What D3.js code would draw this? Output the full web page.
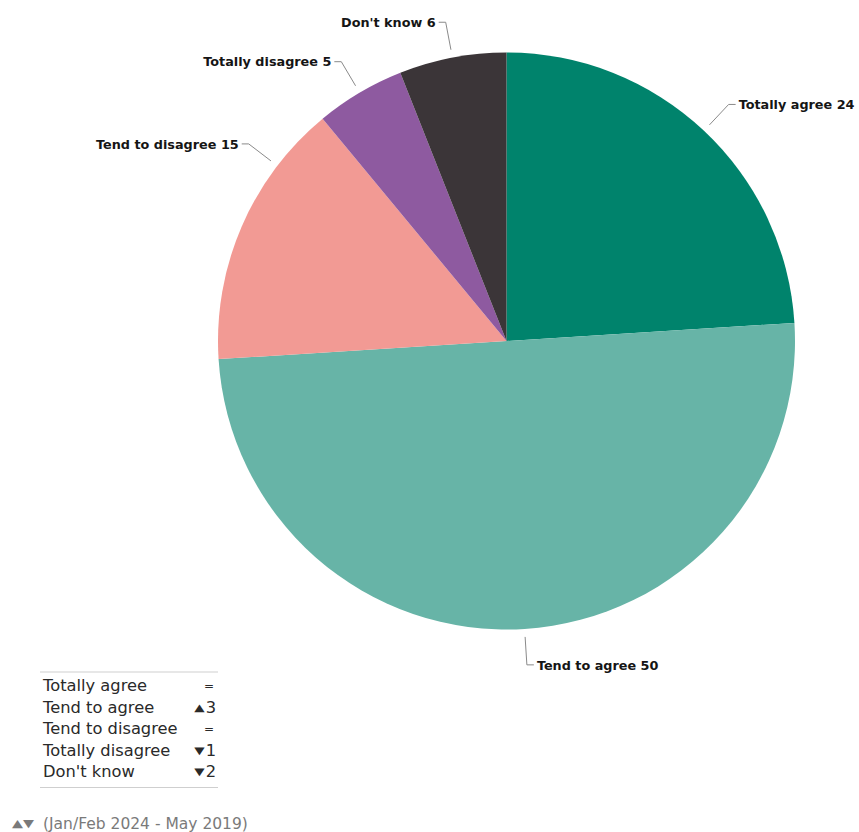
<!DOCTYPE html>
<html>
<head>
<meta charset="utf-8">
<script src="https://cdn.jsdelivr.net/npm/d3@7"></script>
<style>
  html, body { margin: 0; padding: 0; background: #fff; }
  svg { display: block; }
</style>
</head>
<body>
<svg id="chart" width="859" height="832"></svg>
<script>
// ---- data ----
const categories = ["Totally agree", "Tend to agree", "Tend to disagree", "Totally disagree", "Don't know"];
const values = [24, 50, 15, 5, 6];
const changes = [0, 3, 0, -1, -2];
const colors = ["#00836c", "#67b4a7", "#f29a94", "#8e5aa0", "#3b3538"];
const footnote = "(Jan/Feb 2024 - May 2019)";

// ---- layout / style ----
const cx = 506.5, cy = 341, R = 288.5;
const labelAngleShift = [0, 0, 14, 0, 0]; // degrees, visual label offset
const toRad = Math.PI / 180;
const labelFont = "'DejaVu Sans', Verdana, sans-serif";

const svg = d3.select("#chart");

const pie = d3.pie().sort(null).value(d => d.value).startAngle(0).endAngle(2 * Math.PI);
const arcs = pie(categories.map((c, i) => ({ name: c, value: values[i], color: colors[i], idx: i })));
const arc = d3.arc().innerRadius(0).outerRadius(R);

const g = svg.append("g").attr("transform", `translate(${cx},${cy})`);

g.selectAll("path.slice")
  .data(arcs)
  .join("path")
  .attr("class", "slice")
  .attr("d", arc)
  .attr("fill", d => d.data.color);

// labels with leader lines
const lfs = 12.8;
arcs.forEach(d => {
  const a = (d.startAngle + d.endAngle) / 2 + labelAngleShift[d.data.idx] * toRad;
  const sx = Math.sin(a), sy = -Math.cos(a);
  const p1 = [(R + 8) * sx, (R + 8) * sy];
  const p2 = [(R + 36) * sx, (R + 36) * sy];
  const right = sx > 0.02;
  const p3 = [p2[0] + (right ? 7 : -7), p2[1]];
  g.append("path")
    .attr("d", d3.line()([p1, p2, p3]))
    .attr("fill", "none")
    .attr("stroke", "#8a8a8a")
    .attr("stroke-width", 1);
  g.append("text")
    .attr("x", p3[0] + (right ? 3 : -3))
    .attr("y", p3[1] + lfs * 0.37)
    .attr("text-anchor", right ? "start" : "end")
    .attr("font-family", labelFont)
    .attr("font-weight", "bold")
    .attr("font-size", lfs)
    .attr("fill", "#151515")
    .text(`${d.data.name} ${d.data.value}`);
});

// ---- change table (legend) ----
const legX0 = 40, legX1 = 218, legTop = 672, rowH = 21.5, tfs = 16.3;
const leg = svg.append("g");
const yRow = i => legTop + 13.5 + i * rowH;

leg.append("line").attr("x1", legX0).attr("x2", legX1).attr("y1", legTop).attr("y2", legTop)
  .attr("stroke", "#cfcfcf").attr("stroke-width", 1);
leg.append("line").attr("x1", legX0).attr("x2", legX1)
  .attr("y1", legTop + rowH * categories.length + 8).attr("y2", legTop + rowH * categories.length + 8)
  .attr("stroke", "#cfcfcf").attr("stroke-width", 1);

categories.forEach((c, i) => {
  const base = yRow(i) + tfs * 0.36;
  leg.append("text")
    .attr("x", legX0 + 3)
    .attr("y", base)
    .attr("font-family", labelFont)
    .attr("font-size", tfs)
    .attr("fill", "#2a2a2a")
    .text(c);
  const v = changes[i];
  if (v === 0) {
    leg.append("text")
      .attr("x", legX1 - 4)
      .attr("y", base - 1)
      .attr("text-anchor", "end")
      .attr("font-family", labelFont)
      .attr("font-size", 12)
      .attr("fill", "#2a2a2a")
      .text("=");
  } else {
    const num = leg.append("text")
      .attr("x", legX1 - 2)
      .attr("y", base)
      .attr("text-anchor", "end")
      .attr("font-family", labelFont)
      .attr("font-size", tfs)
      .attr("fill", "#2a2a2a")
      .text(Math.abs(v));
    const nw = num.node().getComputedTextLength();
    const tx = legX1 - 2 - nw - 1;
    leg.append("text")
      .attr("transform", `translate(${tx},${base - 2}) scale(1.35,1)`)
      .attr("text-anchor", "end")
      .attr("font-family", labelFont)
      .attr("font-size", 10)
      .attr("fill", "#2a2a2a")
      .text(v > 0 ? "▲" : "▼");
  }
});

// footnote
const ffs = 15.5;
svg.append("text")
  .attr("transform", `translate(12,${823 + ffs * 0.36 - 1.5}) scale(1.3,1)`)
  .attr("font-family", labelFont)
  .attr("font-size", 11)
  .attr("fill", "#7a7a7a")
  .text("▲▼");
svg.append("text")
  .attr("x", 43)
  .attr("y", 823 + ffs * 0.36)
  .attr("font-family", labelFont)
  .attr("font-size", ffs)
  .attr("fill", "#7a7a7a")
  .text(footnote);
</script>
</body>
</html>
